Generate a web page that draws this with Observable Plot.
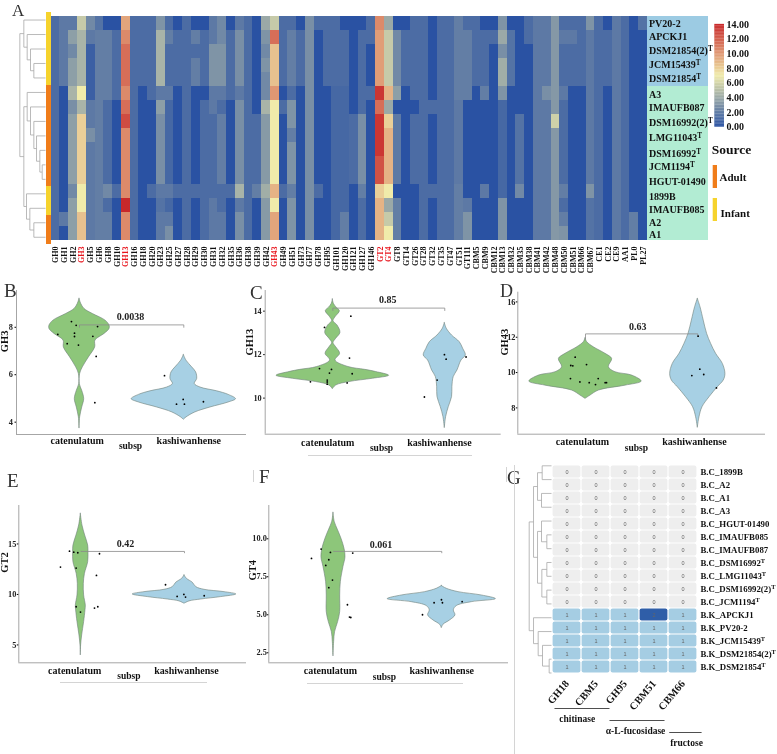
<!DOCTYPE html>
<html><head><meta charset="utf-8">
<script src="https://cdn.jsdelivr.net/npm/d3@7"></script>
<script src="https://cdn.jsdelivr.net/npm/@observablehq/plot@0.6"></script>
<style>
html,body{margin:0;padding:0;background:#fff}
#page{position:relative;width:777px;height:754px;overflow:hidden;background:#fff;font-family:"Liberation Serif",serif}
#page svg{position:absolute;overflow:visible;background:transparent;max-width:none;will-change:transform}
.letter{position:absolute;font-size:19px;line-height:15px;color:#333}
.hair{position:absolute;background:#d4d4d4}
</style></head><body><div id="page"></div>
<script>
const columns=["GH0","GH1","GH2","GH3","GH5","GH6","GH8","GH10","GH13","GH16","GH18","GH20","GH23","GH25","GH27","GH28","GH29","GH30","GH31","GH32","GH35","GH36","GH38","GH39","GH42","GH43","GH49","GH51","GH73","GH77","GH78","GH95","GH101","GH120","GH121","GH127","GH146","GT2","GT4","GT8","GT14","GT26","GT28","GT32","GT35","GT47","GT51","GT111","CBM5","CBM9","CBM12","CBM13","CBM32","CBM35","CBM38","CBM41","CBM42","CBM48","CBM50","CBM51","CBM66","CBM67","CE1","CE2","CE9","AA1","PL0","PL27"];
const highlighted=["GH3","GH13","GH43","GT2","GT4"];
const strains=["PV20-2","APCKJ1","DSM21854(2)T","JCM15439T","DSM21854T","A3","IMAUFB087","DSM16992(2)T","LMG11043T","DSM16992T","JCM1194T","HGUT-01490","1899B","IMAUFB085","A2","A1"];
const strainGroup=["k","k","k","k","k","c","c","c","c","c","c","c","c","c","c","c"];
const strainLabelShift=[0,-1,-1,-1,-1,1,0.5,1,2,4,3.5,4,5.7,4,3.5,1.5];
const sourceByStrain=["Infant","Infant","Infant","Infant","Infant","Adult","Adult","Adult","Adult","Adult","Adult","Adult","Infant","Infant","Adult","Adult"];
// one list per column, strains top to bottom
const heatByColumn=[
[1.2,1.2,1.2,1.2,1.2,1.2,1.2,1.2,1.2,1.2,1.2,1.2,1.2,1.2,1.2,1.2],
[1.8,1.8,1.8,1.8,1.8,0,0,0,0,0,0,0,0,0,1.8,0],
[1.8,3.5,2.5,3.5,3.5,4.5,2.8,3.5,3.5,3.5,3.5,3.5,2.5,3.5,3.5,3.5],
[5.5,4.5,4.5,4.5,4.5,7,4.5,8,8,8,8,8,7,7,8.5,8.5],
[2.5,1.8,.6,.6,.6,.6,1.8,1.8,2.8,1.8,1.8,1.8,1.8,1.8,1.8,1.8],
[1.5,2,2,2,2,2,2,2,2,2,2,2,2,2,2,2],
[0,2,2,2,2,2,1.2,1.2,1.2,1.2,1.2,1.2,2.5,1.2,2,2],
[0,1.2,1.2,1.2,1.2,1.2,0,0,0,0,0,0,1.2,0,0,0],
[9.5,10.5,11.5,11.5,11.5,10.5,11.5,12.7,10.5,10.5,10.5,10.5,10.5,14,10.5,10.5],
[1.2,1.2,1.2,1.2,1.2,1.2,1.2,1.2,1.2,1.2,1.2,1.2,1.2,1.2,1.2,1.2],
[1.2,1.2,1.2,1.2,1.2,0,0,0,0,0,0,0,0,0,0,0],
[1.2,1.2,1.2,1.2,1.2,1.2,0,0,0,0,0,0,1.2,0,0,0],
[3,4.5,4.5,4.5,4.5,1.8,3.5,2.8,2.8,2.8,2.8,2.8,1.8,1.5,1.8,1.8],
[1.2,2,1.2,1.2,1.2,1.8,1,1,1,1,1,1,1.8,1,1.8,2.8],
[0,1.2,1.2,1.2,1.2,0,0,0,0,0,0,0,1.2,0,0,0],
[1.2,1.2,1.2,1.2,1.2,1.2,1.2,1.2,1.2,1.2,1.2,1.2,1.2,1.2,1.2,1.2],
[0,2,1.2,2,2,0,0,0,0,0,0,0,1.2,0,0,0],
[0,1.2,1.2,1.2,1.2,0,1.2,1.2,1.2,1.2,1.2,1.2,1.2,1.2,1.2,1.2],
[1.8,1.8,3,3,3,1.8,1.8,1.2,1.2,1.2,1.2,1.2,1.2,1.8,1.8,1.8],
[2.5,2.5,3,3,3,1.8,1.2,2,2,2,2,2,1.2,1.2,1.8,1.8],
[0,1.2,1.2,1.2,1.2,1.2,0,0,0,0,0,0,1.2,0,0,0],
[1.8,2.8,2.8,2.8,2.8,1.8,2.8,2.8,2.8,2.8,2.8,2.8,4.5,1.8,2.8,2.8],
[1.2,1.2,1.2,1.2,1.2,1.2,1.2,1.2,1.2,1.2,1.2,1.2,1.2,1.2,1.2,1.2],
[0,0,0,0,0,0,0,1.2,1.2,1.2,1.2,1.2,2,0,0,0],
[4,3,2.5,3,2.5,2.5,4.5,3.3,3.3,3.3,3.3,3.3,4.2,3.3,3.3,3.3],
[5.5,11.5,8.5,8.5,8.5,10,7,7,7,7,7,7,9,7,9.5,9.5],
[1.2,1.2,1.2,1.2,1.2,0,1.2,0,0,0,0,0,1.2,0,0,0],
[1.2,2,2,2,2,1.2,3,3,2,3,3,3,2,3,3,3],
[0,1.2,1.2,1.2,1.2,0,0,0,0,0,0,0,0,0,0,0],
[2.8,2.8,2.8,2.8,2.8,2.8,2.8,2.8,2.8,2.8,2.8,2.8,2.8,2.8,2.8,2.8],
[1.2,0,0,0,0,0,0,0,0,0,0,0,1.2,0,0,0],
[1.2,1.2,1.2,1.2,1.2,0,0,0,0,0,0,0,0,0,0,0],
[1.2,1.2,1.2,1.2,1.2,1,1,1,1,1,1,1,1,1,1,1],
[0,1.2,1.2,1.2,1.2,1,1,1,1,1,1,1,1,1,2,2],
[0,0,0,0,0,0,0,1.2,1.2,1.2,1.2,1.2,0,0,0,0],
[0,1.2,1.2,1.2,1.2,1.2,1.2,2.8,2.8,2.8,2.8,2.8,2,1.2,1.2,1.2],
[1.2,1.2,0,0,0,1.2,0,0,0,0,0,0,0,0,0,0],
[10.5,9.8,9.8,9.8,9.8,13.5,11.5,13.5,13.5,13.5,12.5,12.5,8,9,9,9],
[4,5.5,5.5,5.5,5.5,9,4,8,9,9,9,9,7,4,5.5,7],
[0,2.5,2.5,2.5,2.5,3.5,0,1.8,1.8,1.8,1.8,1.8,0,2,2,2],
[0,1.2,1.2,1.2,1.2,0,0,0,0,0,0,0,0,0,0,0],
[1.2,1.2,1.2,1.2,1.2,1.2,0,1.2,1.2,1.2,1.2,1.2,0,0,0,0],
[1.2,1.2,1.2,1.2,1.2,1.2,1.2,1.2,1.2,1.2,1.2,1.2,1.2,1.2,1.2,1.2],
[0,0,0,0,0,0,1.2,0,0,0,0,0,1.2,0,0,0],
[1.2,1.2,1.2,1.2,1.2,1.2,1.2,1.2,1.2,1.2,1.2,1.2,1.2,1.2,1.2,1.2],
[1.2,1.2,1.2,1.2,1.2,1.2,1.2,1.2,1.2,1.2,1.2,1.2,1.2,1.2,1.2,1.2],
[2,2,2,2,2,2,1.8,1.8,1.8,1.8,1.8,1.8,2,2,2,2],
[1.2,2,2,2,2,2,0,0,0,0,0,0,0,1.8,3,3],
[1.2,1.2,1.2,1.2,1.2,0,0,0,0,0,0,0,0,0,0,0],
[0,1.2,1.2,1.2,1.2,2,0,0,0,0,0,0,1.8,0,0,0],
[0,1.2,0,0,0,0,0,0,0,0,0,0,0,0,0,0],
[3,4,2.8,4.2,4.2,3,1,1,1,1,1,1,1,3,3,3],
[0,1.5,1.5,1.5,1.5,0,0,0,0,0,0,0,0,0,0,0],
[0,0,0,0,0,0,0,1.5,1.5,1.5,1.5,1.5,2.5,0,0,0],
[1.2,1.2,0,0,0,0,0,0,0,0,0,0,0,0,0,0],
[1.8,1.8,1.8,1.8,1.8,1.8,1.8,1.8,1.8,1.8,1.8,1.8,1.8,1.8,1.8,1.8],
[1.8,1.8,1.8,1.8,1.8,2.8,1.8,1.8,1.8,1.8,1.8,1.8,1.8,1.8,1.8,1.8],
[3.2,3.2,3.2,3.2,3.2,3.2,3.2,5.8,3.2,3.2,3.2,3.2,3.2,3.2,3.2,3.2],
[1.2,1.8,1.2,1.2,1.2,1.8,1.2,1.2,1.2,1.2,1.2,1.2,2,1.2,2,3],
[1.2,1.8,1.2,1.2,1.2,0,0,0,0,0,0,0,0,0,0,0],
[1.2,1.2,1.2,1.2,1.2,0,0,0,0,0,0,0,0,0,0,0],
[3,1.8,1.8,1.8,1.8,1.8,1.8,1.8,1.8,1.8,1.8,1.8,3,1.5,1.5,1.5],
[1.2,1.2,1.2,1.2,1.2,1.2,1.2,1.2,1.2,1.2,1.2,1.2,1.2,1.2,1.2,1.2],
[0,1.2,1.2,1.2,1.2,0,0,0,0,0,0,0,0,0,0,0],
[1.8,1.8,1.8,1.8,1.8,1.8,1.8,1.8,1.8,1.8,1.8,1.8,1.8,1.8,1.8,1.8],
[1.2,1.2,1.2,1.2,1.2,1.2,1.2,1.2,1.2,1.2,1.2,1.2,1.2,1.2,1.2,1.2],
[0,0,0,0,0,0,0,0,0,0,0,0,0,0,2,2],
[1.5,0,0,0,0,0,0,0,0,0,0,0,0,0,0,0]
];
const heatTree=[77,[65,0,[55,1,[45,2,[35,3,4]]]],[65,[55,5,[45,6,[35,7,[27,8,[17,9,[10,10,11]]]]]],[57,12,[47,13,[35,14,15]]]]];
const colorTicks=[0,2,4,6,8,10,12,14];
const sourceNames=["Adult","Infant"];

// violin outlines: y value and half width (category spacing = 1); points: jittered x and value
const gh3CatY=[9.2,8.99,8.77,8.56,8.28,8.07,7.93,7.72,7.44,7.15,6.73,6.31,6.03,5.6,5.32,4.97,4.62,4.2,3.73];
const gh3CatW=[0,.016,.048,.128,.25,.288,.288,.24,.153,.15,.09,.032,.006,.003,.026,.045,.026,.006,0];
const gh3KasY=[6.83,6.59,6.31,6.1,5.82,5.61,5.46,5.3,5.15,4.97,4.83,4.62,4.41,4.2,4.1];
const gh3KasW=[0,.026,.08,.118,.128,.105,.16,.32,.43,.5,.43,.256,.11,.026,0];
const gh3PtX=[-.077,-.032,.173,-.208,-.048,-.048,.128,-.118,-.01,.16,.147,.815,.994,.93,1.006,1.188];
const gh3PtY=[8.24,8.08,8.03,7.7,7.75,7.61,7.62,7.31,7.25,6.77,4.82,5.96,4.96,4.76,4.76,4.86];

const gh13CatY=[14.54,14.34,14.15,14,13.72,13.54,13.34,13,12.73,12.53,12.34,12.04,11.73,11.43,11.3,11.2,11.03,10.89,10.74,10.58,10.41];
const gh13CatW=[0,.009,.036,.063,.024,.006,.042,.068,.03,.006,.03,.065,.024,.14,.29,.387,.503,.357,.149,.03,0];
const gh13KasY=[13.45,13.19,12.88,12.57,12.27,11.96,11.73,11.27,10.97,10.51,10.05,9.59,9.13,8.62];
const gh13KasW=[0,.018,.065,.134,.164,.188,.149,.113,.08,.068,.065,.036,.012,0];
const gh13PtX=[.161,-.074,.149,-.119,-.012,-.03,.173,-.2,-.05,-.05,-.05,.128,.997,1.012,1.19,.932,.818];
const gh13PtY=[13.77,13.25,11.84,11.36,11.32,11.15,11.12,10.75,10.83,10.74,10.64,10.7,12,11.79,11.89,10.83,10.05];

const gh43CatY=[11.94,11.72,11.43,11.06,10.77,10.3,10.02,9.83,9.49,9.26,8.98,8.7,8.51];
const gh43CatW=[0,.015,.074,.178,.237,.208,.267,.415,.5,.356,.119,.045,0];
const gh43KasY=[14.17,13.7,12.94,12.19,11.62,11.06,10.49,9.92,9.55,9.17,8.6,8.04,7.47,6.87];
const gh43KasW=[0,.024,.053,.083,.119,.163,.223,.246,.231,.178,.104,.042,.015,0];
const gh43PtX=[-.092,.009,-.131,-.113,-.134,-.05,.033,.113,.089,.175,.187,1.003,1.018,.947,1.053,1.166];
const gh43PtY=[10.87,10.45,10.4,10.38,9.66,9.47,9.43,9.66,9.32,9.43,9.43,12.06,10.19,9.83,9.89,9.13];

const gt2CatY=[17.99,16.83,15.84,14.85,14.19,13.2,12.05,11.06,9.9,8.91,8.42,7.26,5.94,4.95,3.96];
const gt2CatW=[0,.016,.042,.071,.074,.071,.04,.029,.032,.048,.045,.032,.013,.003,0];
const gt2KasY=[11.88,11.55,11.16,10.73,10.46,10.23,10,9.74,9.5,9.31,9.08];
const gt2KasW=[0,.023,.08,.113,.193,.386,.5,.354,.161,.048,0];
const gt2PtX=[-.109,-.068,-.029,.18,-.196,-.045,.151,-.045,.164,.132,-.003,.817,.929,.994,1.01,1.19];
const gt2PtY=[14.29,14.19,14.13,14.03,12.71,12.61,11.88,8.78,8.78,8.65,8.25,10.96,9.8,10,9.74,9.87];

const gt4CatY=[11.71,11.1,10.55,10,9.34,8.79,8.14,7.15,6.27,5.18,4.52,3.86,3.2,2.26];
const gt4CatW=[0,.012,.043,.074,.102,.111,.092,.068,.062,.062,.043,.015,.006,0];
const gt4KasY=[6.89,6.71,6.49,6.27,6.03,5.83,5.57,5.29,4.96,4.63,4.34,4.12];
const gt4KasW=[0,.046,.154,.369,.5,.277,.138,.111,.126,.077,.015,0];
const gt4PtX=[-.114,-.028,.178,-.203,-.043,-.071,-.009,-.043,.129,.148,.16,.997,1.006,.929,1.188,.822];
const gt4PtY=[9.32,9.1,9.06,8.71,8.62,8.25,7.28,6.78,5.66,4.85,4.82,5.99,5.79,5.79,5.86,5];

const subspNames=["catenulatum","kashiwanhense"];

// panel G
const cazyFamilies=["GH18","CBM5","GH95","CBM51","CBM66"];
const cazyStrains=["B.C_1899B","B.C_A2","B.C_A1","B.C_A3","B.C_HGUT-01490","B.C_IMAUFB085","B.C_IMAUFB087","B.C_DSM16992T","B.C_LMG11043T","B.C_DSM16992(2)T","B.C_JCM1194T","B.K_APCKJ1","B.K_PV20-2","B.K_JCM15439T","B.K_DSM21854(2)T","B.K_DSM21854T"];
const cazyCounts=[[0,0,0,0,0],[0,0,0,0,0],[0,0,0,0,0],[0,0,0,0,0],[0,0,0,0,0],[0,0,0,0,0],[0,0,0,0,0],[0,0,0,0,0],[0,0,0,0,0],[0,0,0,0,0],[0,0,0,0,0],[1,1,1,2,1],[1,1,1,1,1],[1,1,1,1,1],[1,1,1,1,1],[1,1,1,1,1]];
const cazyTree=[67,[54,[42,[28,0,1],[30,2,3]],[42,[30,4,[14,5,6]],[29,[14,7,8],[14,9,10]]]],[54,11,[40,12,[27,13,[7,14,15]]]]];
const groupNames=["chitinase","α-L-fucosidase","fructose"];
const groupStart=[-.372,1.487,3.506];
const groupEnd=[1.487,3.347,4.6];
const groupMid=[.395,2.366,4.09];

const page=document.getElementById("page");
const serif='"Liberation Serif","Times New Roman",serif';
function place(svg,left,top){svg.style.left=left+"px";svg.style.top=top+"px";page.appendChild(svg);return svg;}
function superT(svg,names){
  svg.querySelectorAll("text").forEach(t=>{
    const s=t.textContent;
    if(names.includes(s)&&s.endsWith("T")){
      t.textContent=s.slice(0,-1);
      const ts=document.createElementNS("http://www.w3.org/2000/svg","tspan");
      ts.setAttribute("font-size","72%");ts.setAttribute("dy","-0.42em");ts.textContent="T";t.appendChild(ts);
    }
  });
}
function treeSegments(tree){
  const segs=[];
  (function walk(n){
    if(typeof n==="number")return{h:0,y:n+.5};
    const [h,a,b]=n,A=walk(a),B=walk(b);
    segs.push({h1:A.h,y1:A.y,h2:h,y2:A.y},{h1:B.h,y1:B.y,h2:h,y2:B.y},{h1:h,y1:A.y,h2:h,y2:B.y});
    return{h,y:(A.y+B.y)/2};
  })(tree);
  return segs;
}
const treeMark=t=>Plot.link(treeSegments(t),{x1:"h1",y1:"y1",x2:"h2",y2:"y2",stroke:"#a8a8a8",strokeWidth:.8});
const heatColor={type:"linear",domain:[0,7,14],range:["#2a52a3","#f0ebaa","#c8282a"],interpolate:"rgb"};

// A: heat map
const heatCells=columns.flatMap((c,i)=>strains.map((s,j)=>({c,s,v:heatByColumn[i][j]})));
place(Plot.plot({width:777,height:272,marginLeft:50.7,marginRight:130,marginTop:12.3,marginBottom:28,
  style:{fontFamily:serif,fontWeight:"bold",fontSize:"8px"},
  x:{domain:columns,padding:0,label:null},y:{domain:strains,padding:0,axis:null},color:heatColor,
  marks:[Plot.cell(heatCells,{x:"c",y:"s",fill:"v",shapeRendering:"crispEdges"}),
    Plot.axisX({tickRotate:-90,tickSize:0,tickPadding:2,label:null,fill:d=>highlighted.includes(d)?"#e8141c":"#111"})]}),0,0);
// A: dendrogram and source strip
place(Plot.plot({width:51,height:272,margin:0,
  x:{domain:[81,-17],range:[18,50.7],axis:null},y:{domain:[0,16],range:[12.3,244],axis:null},
  color:{domain:sourceNames,range:["#f07d1a","#f6d32d"]},
  marks:[treeMark(heatTree),
    Plot.rect(strains,{x1:()=>-2,x2:()=>-17,y1:(d,i)=>i,y2:(d,i)=>i+1,fill:(d,i)=>sourceByStrain[i],shapeRendering:"crispEdges"})]}),0,0);
// A: strain labels on their coloured band
const strainPlot=Plot.plot({width:130,height:272,marginLeft:0,marginRight:69,marginTop:12.3,marginBottom:28,
  style:{fontFamily:serif,fontWeight:"bold",fontSize:"10px"},
  x:{domain:[0,1],axis:null},y:{domain:strains,padding:0,axis:null},
  color:{domain:["k","c"],range:["#9ccbe3","#b2ecd3"]},
  marks:[Plot.barX(strains,{x1:()=>0,x2:()=>1,y:d=>d,fill:(d,i)=>strainGroup[i],shapeRendering:"crispEdges"}),
    ...strains.map((s,i)=>Plot.text([s],{y:d=>d,x:()=>0,dx:1.5,dy:strainLabelShift[i],textAnchor:"start",fill:"#111"}))]});
superT(strainPlot,strains);place(strainPlot,647,0);
// A: colour bar
place(Plot.plot({width:77,height:120,marginLeft:14.3,marginRight:53,marginTop:9,marginBottom:8.3,
  style:{fontFamily:serif,fontWeight:"bold",fontSize:"10px"},
  x:{domain:[0,1],axis:null},y:{domain:[0,14],label:null},color:heatColor,
  marks:[Plot.rect(d3.range(0,14,.2),{x1:()=>0,x2:()=>1,y1:d=>d,y2:d=>d+.22,fill:d=>d+.1}),
    Plot.axisY({anchor:"right",ticks:colorTicks,tickSize:0,tickPadding:2,tickFormat:d=>d.toFixed(2),label:null,fill:"#111"})]}),700,15);
// A: source legend
place(Plot.plot({width:72,height:91.1,marginLeft:7.7,marginRight:60,marginTop:0,marginBottom:0,
  style:{fontFamily:serif,fontWeight:"bold",fontSize:"11px"},
  x:{domain:[0,1],axis:null},y:{domain:sourceNames,padding:.3,range:[14.3,91.1],axis:null},
  color:{domain:sourceNames,range:["#f07d1a","#f6d32d"]},
  marks:[Plot.barX(sourceNames,{x1:()=>0,x2:()=>1,y:d=>d,fill:d=>d}),
    Plot.text(["Adult"],{y:d=>d,x:()=>1,dx:2,textAnchor:"start",fill:"#111"}),
    Plot.text(["Infant"],{y:d=>d,x:()=>1,dx:3,dy:3,textAnchor:"start",fill:"#111"}),
    Plot.text(["Source"],{frameAnchor:"top-left",dx:-1.5,dy:3.5,fontSize:13.5,fill:"#111"})]}),705,140);

// B-F: violins
const violinPanels=[
 {name:"GH3",left:0,top:285,w:250,h:168,ml:16,mr:4,mt:5,mb:19,xd:[-.604,1.601],yd:[3.48,9.55],ticks:[4,6,8],nameX:4,tp:2,
  cy:gh3CatY,cw:gh3CatW,ky:gh3KasY,kw:gh3KasW,px:gh3PtX,py:gh3PtY,top1:8.1,l1:8.0,r1:8.0,p:"0.0038",pxx:.49,pyy:8.45,lx:[-.022,1.048],ld:6,sx:.489,sd:11.7,yl:6.95},
 {name:"GH13",left:250,top:285,w:252,h:168,ml:14.7,mr:1.3,mt:5,mb:19.3,xd:[-.604,1.504],yd:[8.34,14.95],ticks:[10,12,14],nameX:-.7,tp:2,
  cy:gh13CatY,cw:gh13CatW,ky:gh13KasY,kw:gh13KasW,px:gh13PtX,py:gh13PtY,top1:14.14,l1:14.03,r1:14.03,p:"0.85",pxx:.49,pyy:14.52,lx:[-.045,.952],ld:8.6,sx:.435,sd:14,yl:11.96},
 {name:"GH43",left:500,top:285,w:270,h:168,ml:17.3,mr:5,mt:6.7,mb:19.3,xd:[-.603,1.603],yd:[6.51,14.55],ticks:[8,10,12,14],fmt:d=>d===14?"16":String(d),nameX:4,tp:.8,
  cy:gh43CatY,cw:gh43CatW,ky:gh43KasY,kw:gh43KasW,px:gh43PtX,py:gh43PtY,top1:12.19,l1:11.9,r1:12.05,p:"0.63",pxx:.465,pyy:12.57,lx:[-.027,.97],ld:8,sx:.454,sd:13.6,yl:10.96},
 {name:"GT2",left:0,top:500,w:250,h:185,ml:18.3,mr:4,mt:5,mb:22.7,xd:[-.598,1.598],yd:[3.23,18.81],ticks:[5,10,15],nameX:4,tp:1,
  cy:gt2CatY,cw:gt2CatW,ky:gt2KasY,kw:gt2KasW,px:gt2PtX,py:gt2PtY,top1:14.26,l1:14.26,r1:14.13,p:"0.42",pxx:.43,pyy:14.98,lx:[-.058,1.019],ld:7.7,sx:.463,sd:13.4,yl:12.15},
 {name:"GT4",left:250,top:500,w:260,h:185,ml:18.3,mr:2,mt:5,mb:22.7,xd:[-.597,1.616],yd:[1.84,12.19],ticks:[2.5,5,7.5,10],fmt:d=>d.toFixed(1),nameX:1.7,tp:.5,
  cy:gt4CatY,cw:gt4CatW,ky:gt4KasY,kw:gt4KasW,px:gt4PtX,py:gt4PtY,top1:9.17,l1:9.17,r1:9.08,p:"0.061",pxx:.44,pyy:9.63,lx:[-.028,1],ld:7.7,sx:.471,sd:13.7,yl:7.26}
];
function outline(ys,ws,c){return ys.map((y,i)=>({y,a:c-ws[i],b:c+ws[i]}));}
const shapeOpts=(fill)=>({x1:"a",x2:"b",y1:"y",y2:"y",fill,stroke:"#6e7f78",strokeWidth:.6,curve:"catmull-rom"});
for(const p of violinPanels){
  place(Plot.plot({width:p.w,height:p.h,marginLeft:p.ml,marginRight:p.mr,marginTop:p.mt,marginBottom:p.mb,
    style:{fontFamily:serif,fontWeight:"bold",fontSize:"9.5px"},
    x:{domain:p.xd,axis:null},y:{domain:p.yd,label:null},
    marks:[
      Plot.ruleX([p.xd[0]],{stroke:"#a6a6a6",strokeWidth:1}),
      Plot.ruleY([p.yd[0]],{stroke:"#a6a6a6",strokeWidth:1}),
      Plot.area(outline(p.cy,p.cw,0),shapeOpts("#8dc67a")),
      Plot.area(outline(p.ky,p.kw,1),shapeOpts("#a7d0e4")),
      Plot.line([[0,p.l1],[0,p.top1],[1,p.top1],[1,p.r1]],{x:d=>d[0],y:d=>d[1],stroke:"#8a8a8a",strokeWidth:.8}),
      Plot.dot(p.px,{x:d=>d,y:(d,i)=>p.py[i],r:.9,fill:"#000"}),
      Plot.text([p.p],{x:()=>p.pxx,y:()=>p.pyy,fill:"#222",fontSize:10}),
      Plot.axisY({ticks:p.ticks,tickSize:1.5,tickPadding:p.tp,label:null,tickFormat:p.fmt||(d=>String(d)),fill:"#222",fontSize:8.3}),
      Plot.text(subspNames,{x:(d,i)=>p.lx[i],frameAnchor:"bottom",lineAnchor:"middle",dy:p.ld,fill:"#111",fontSize:10}),
      Plot.text(["subsp"],{x:()=>p.sx,frameAnchor:"bottom",lineAnchor:"middle",dy:p.sd,fill:"#111",fontSize:9.5}),
      Plot.text([p.name],{frameAnchor:"left",y:()=>p.yl,rotate:-90,dx:-p.ml+p.nameX,lineAnchor:"middle",fill:"#111",fontSize:10.5})
    ]}),p.left,p.top);
}

// G: family counts
const cazyCells=cazyStrains.flatMap((s,j)=>cazyFamilies.map((f,i)=>({s,f,v:cazyCounts[j][i]})));
const gPlot=Plot.plot({width:263,height:268,marginLeft:37,marginRight:79,marginTop:8.4,marginBottom:38.6,
  style:{fontFamily:serif,fontWeight:"bold",fontSize:"9px"},
  x:{domain:cazyFamilies,padding:0,label:null},y:{domain:cazyStrains,padding:0,label:null},
  color:{type:"ordinal",domain:[0,1,2],range:["#eeeeee","#a5cde3","#2f5ea8"]},
  marks:[Plot.cell(cazyCells,{x:"f",y:"s",fill:"v",inset:.6,rx:2}),
    Plot.text(cazyCells,{x:"f",y:"s",text:d=>String(d.v),fill:"#666",fontSize:5.5,fontWeight:"normal",fontFamily:"Liberation Sans"}),
    Plot.axisY({anchor:"right",tickSize:0,tickPadding:2,label:null,fill:"#111",fontSize:8.8}),
    Plot.axisX({tickRotate:-50,tickSize:0,tickPadding:2,label:null,fill:"#111",fontSize:10.5})]});
superT(gPlot,cazyStrains);place(gPlot,514,450);
place(Plot.plot({width:31,height:268,margin:0,
  x:{domain:[70,0],range:[7.7,31],axis:null},y:{domain:[0,16],range:[8.4,229.4],axis:null},
  marks:[treeMark(cazyTree)]}),520,450);
place(Plot.plot({width:170,height:54,margin:0,
  style:{fontFamily:serif,fontWeight:"bold",fontSize:"9.5px"},
  x:{domain:[-.676,5.07],axis:null},y:{domain:[0,2],range:[8,32],axis:null},
  marks:[Plot.link(groupNames,{x1:(d,i)=>groupStart[i],x2:(d,i)=>groupEnd[i],y1:(d,i)=>i,y2:(d,i)=>i,stroke:"#222",strokeWidth:.8}),
    Plot.text(groupNames,{x:(d,i)=>groupMid[i],y:(d,i)=>i,dy:10,fill:"#111"})]}),545,700);

// panel letters and stray hairlines from the composed figure
[["A",12,3,17],["B",4,283,19],["C",250,285,19],["D",500,284,18],["E",7,473,19],["F",259,469,19],["G",507,470,19]].forEach(([t,x,y,fs])=>{
  const d=document.createElement("div");d.className="letter";d.textContent=t;d.style.left=x+"px";d.style.top=y+"px";d.style.fontSize=fs+"px";page.appendChild(d);
});
[[514,465,1,289],[308,455,164,1],[60,682,147,1],[307,683,156,1],[253,470,1,12],[506,467,1,15]].forEach(([x,y,w,h])=>{
  const d=document.createElement("div");d.className="hair";Object.assign(d.style,{left:x+"px",top:y+"px",width:w+"px",height:h+"px"});page.appendChild(d);
});
</script></body></html>
